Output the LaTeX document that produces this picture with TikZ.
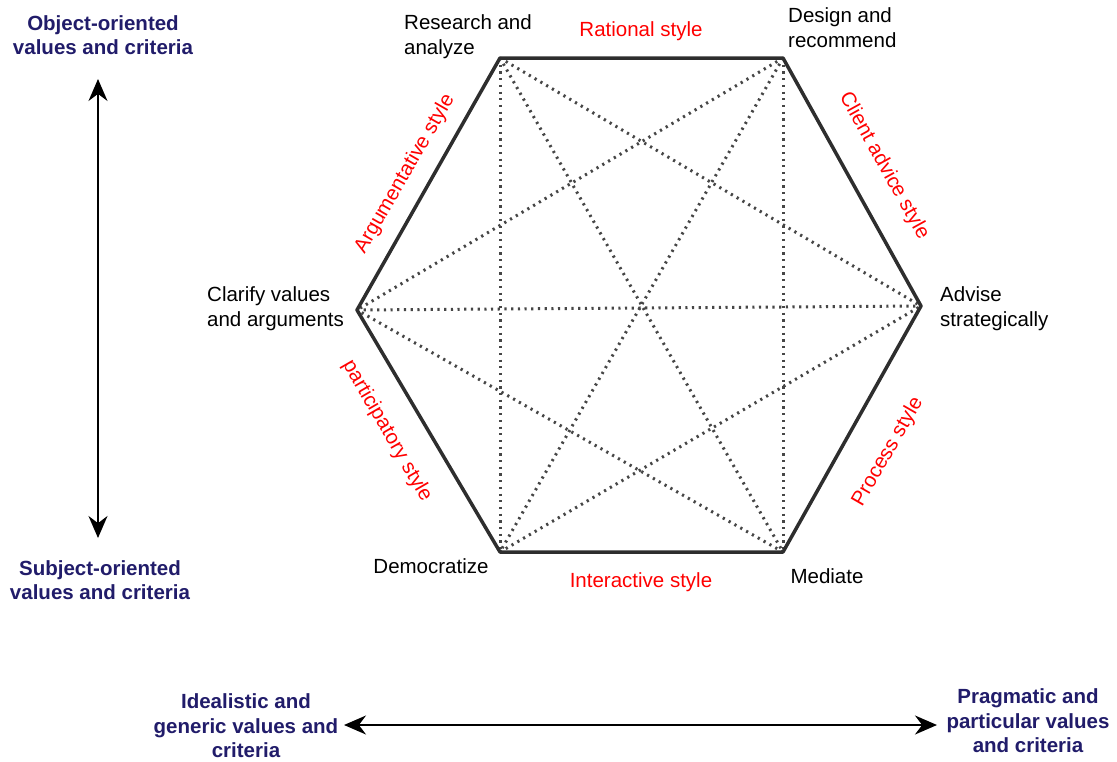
\documentclass[tikz,border=0pt]{standalone}
\usepackage{fontspec}
\setmainfont{Liberation Sans}
\usetikzlibrary{arrows.meta}
\definecolor{navy}{HTML}{211C6A}
\definecolor{hexline}{HTML}{2E2E2E}
\begin{document}
\begin{tikzpicture}[x=1pt,y=-1pt,
  rim/.style={draw=hexline,line width=3.5pt,line join=round},
  chord/.style={draw=gray!55!black,line width=3pt,dash pattern=on 2.2pt off 4.5pt},
  role/.style={font=\fontsize{20.5}{25}\selectfont,align=left,inner sep=0pt},
  stylelabel/.style={font=\fontsize{20.5}{22}\selectfont,text=red,inner sep=0pt},
  axislabel/.style={font=\fontsize{20.5}{24.5}\selectfont\bfseries,text=navy,align=center,inner sep=0pt},
  axis/.style={line width=1.8pt,{Stealth[length=22pt,width=19pt]}-{Stealth[length=22pt,width=19pt]}}]
\path[use as bounding box] (0,0) rectangle (1117,761);

% hexagon corners
\coordinate (tl) at (500,58);
\coordinate (tr) at (783,58);
\coordinate (r)  at (921,306);
\coordinate (br) at (783,552);
\coordinate (bl) at (500,552);
\coordinate (l)  at (357,310);

% dotted chords between all non-adjacent corners
\foreach \a/\b in {tl/bl,tr/br,l/r,tl/br,tr/bl,tl/r,tr/l,bl/r,br/l}
  \draw[chord] (\a) -- (\b);

% outline
\draw[rim] (tl) -- (tr) -- (r) -- (br) -- (bl) -- (l) -- cycle;

% corner roles
\node[role,anchor=west] (research) at (404,37) {Research and\\analyze};
\node[role,anchor=west] (design) at (788,28) {Design and\\recommend};
\node[role,anchor=west] (clarify) at (207,309) {Clarify values\\and arguments};
\node[role,anchor=west] (advise) at (940,309) {Advise\\strategically};
\node[role] (democ) at (431,566) {Democratize};
\node[role] (mediate) at (827,576) {Mediate};

% edge styles
\node[stylelabel] (rational) at (641,31) {Rational style};
\node[stylelabel] (interactive) at (641,582) {Interactive style};
\node[stylelabel,rotate=60] (argument) at (405,174) {Argumentative style};
\node[stylelabel,rotate=-61] (client) at (884,166) {Client advice style};
\node[stylelabel,rotate=-60] (particip) at (387,431) {participatory style};
\node[stylelabel,rotate=60] (process) at (888,452) {Process style};

% axes
\node[axislabel] (object) at (103,35) {Object-oriented\\values and criteria};
\node[axislabel] (subject) at (100,580) {Subject-oriented\\values and criteria};
\node[axislabel] (ideal) at (246,726) {Idealistic and\\generic values and\\criteria};
\node[axislabel] (pragma) at (1028,721) {Pragmatic and\\particular values\\and criteria};

\coordinate (vtop) at (98,79);
\coordinate (vbot) at (98,538);
\coordinate (hleft) at (344,725);
\coordinate (hright) at (937,725);
\draw[axis] (vtop) -- (vbot);
\draw[axis] (hleft) -- (hright);
\end{tikzpicture}
\end{document}
